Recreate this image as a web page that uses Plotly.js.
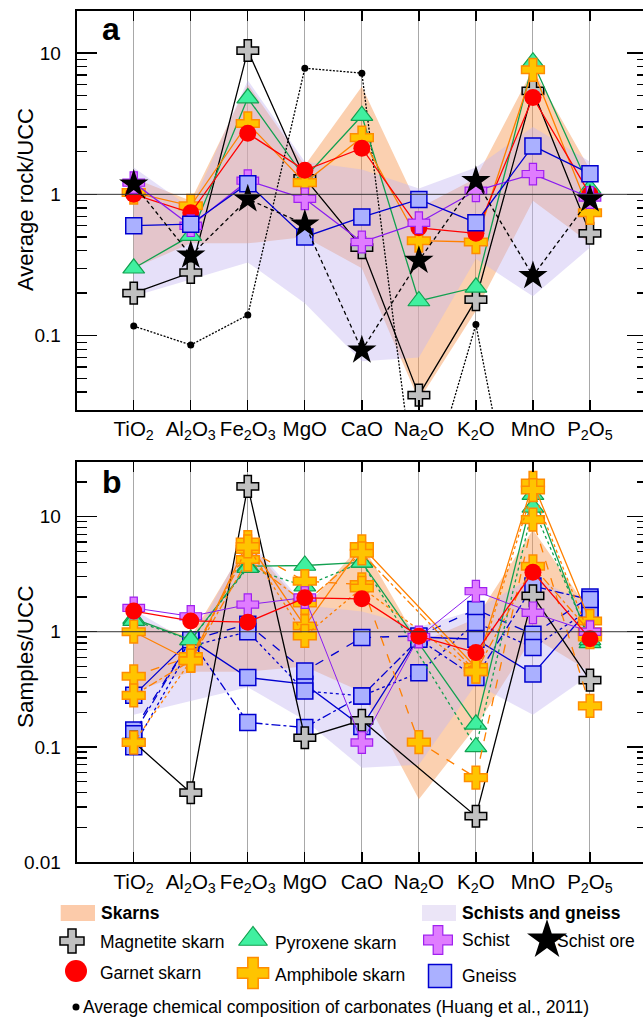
<!DOCTYPE html>
<html><head><meta charset="utf-8">
<script src="https://cdn.plot.ly/plotly-3.0.1.min.js"></script>
<style>html,body{margin:0;padding:0;overflow:hidden;background:#fff}#chart{width:648px;height:1019px}</style>
</head><body><div id="chart"></div><script>
const oxides = ['TiO<sub>2</sub>','Al<sub>2</sub>O<sub>3</sub>','Fe<sub>2</sub>O<sub>3</sub>','MgO','CaO','Na<sub>2</sub>O','K<sub>2</sub>O','MnO','P<sub>2</sub>O<sub>5</sub>'];

// Envelopes (same in both panels)
const skarnUpper = [1.3, 0.9, 6.0, 1.6, 5.8, 0.8, 1.3, 7.7, 1.5];
const skarnLower = [0.3, 0.45, 0.45, 0.5, 0.3, 0.035, 0.15, 0.9, 0.45];
const schistUpper = [1.55, 0.8, 6.4, 1.7, 1.5, 1.1, 1.55, 3.0, 1.7];
const schistLower = [0.19, 0.25, 0.33, 0.17, 0.066, 0.07, 0.35, 0.19, 0.42];

// Panel a: averages
const magnetiteA = [0.20, 0.28, 10.4, 1.3, 0.42, 0.038, 0.18, 5.4, 0.53];
const garnetA = [1.0, 0.74, 2.7, 1.48, 2.12, 0.58, 0.53, 4.84, 1.0];
const pyroxeneA = [0.30, 0.51, 4.8, 1.31, 3.6, 0.176, 0.22, 8.6, 1.1];
const amphiboleA = [1.03, 0.83, 3.17, 1.21, 2.52, 0.47, 0.46, 7.6, 0.74];
const schistA = [1.21, 0.6, 1.25, 0.93, 0.46, 0.63, 1.06, 1.39, 0.95];
const gneissA = [0.60, 0.615, 1.19, 0.50, 0.69, 0.92, 0.63, 2.2, 1.40];
const schistOreA = [1.18, 0.37, 0.925, 0.615, 0.079, 0.34, 1.25, 0.265, 0.925];
const carbonates = [0.117, 0.086, 0.14, 7.8, 7.2, 0.005, 0.12, 0.001, 0.002];

// Panel b: samples
const magnetiteB = [0.11, 0.04, 18.3, 0.12, 0.17, null, 0.025, 2.05, 0.38];
const garnetB = [1.51, 1.24, 1.21, 1.97, 1.93, 0.915, 0.66, 3.29, 0.87];
const pyroxeneB1 = [1.3, 0.85, 3.7, 3.76, 4.0, null, 0.157, 15.5, 0.80];
const pyroxeneB2 = [1.25, 0.85, 3.6, 2.49, 4.0, null, 0.10, 12, 0.85];
const amphiboleB1 = [1.0, 0.56, 6.0, 1.12, 5.5, null, 0.49, 19.6, 1.24];
const amphiboleB2 = [0.41, 0.61, 5.17, 2.75, 2.57, 0.11, 0.054, 9.4, 0.227];
const amphiboleB3 = [0.28, 0.56, 4.24, 1.78, 4.8, null, 0.45, 3.7, 1.0];
const amphiboleB4 = [0.109, 0.56, 5.5, 0.92, 2.4, null, 0.45, 17, 0.9];
const schistB = [1.61, 1.36, 1.72, 1.98, 0.109, 0.9, 2.25, 1.46, 1.0];
const gneissB1 = [0.28, 0.85, 0.40, 0.35, 0.15, 0.9, 0.86, 0.43, 1.6];
const gneissB2 = [0.14, 0.85, 1.16, 0.455, 0.89, 0.92, 1.56, 0.95, 2.0];
const gneissB3 = [0.10, 0.75, 1.0, 0.305, 0.277, 0.44, 1.2, 0.73, 1.56];
const gneissB4 = [0.13, 0.85, 0.163, 0.147, 0.277, 0.86, 0.40, 2.49, 1.9];

const W = 648, H = 1019;
const FONT = 'Liberation Sans, Arial, sans-serif';

const sty = {
  magnetite: {line:'#000000', marker:{symbol:'cross', size:18, color:'#c0c0c0', line:{color:'#000', width:1.5}}},
  garnet: {line:'#ff0000', marker:{symbol:'circle', size:17, color:'#ff0000', line:{color:'#ff0000', width:0}}},
  pyroxene: {line:'#12a050', marker:{symbol:'triangle-up', size:19, color:'#40f0a0', line:{color:'#12a050', width:1.2}}},
  amphibole: {line:'#ff8000', marker:{symbol:'cross', size:19, color:'#ffc400', line:{color:'#ff8c00', width:1.5}}},
  schist: {line:'#8a1cf0', marker:{symbol:'cross', size:18, color:'#e07cff', line:{color:'#a020f0', width:1.2}}},
  gneiss: {line:'#0000d0', marker:{symbol:'square', size:16, color:'#aab0ff', line:{color:'#0000d0', width:1.5}}},
  ore: {line:'#000000', marker:{symbol:'star', size:22, color:'#000', line:{color:'#000', width:0}}}
};

function env(upper, lower, color, xa, ya){
  return {x: oxides.concat(oxides.slice().reverse()), y: upper.concat(lower.slice().reverse()),
    xaxis:xa, yaxis:ya, type:'scatter', mode:'lines', fill:'toself', fillcolor:color,
    line:{width:0, color:'rgba(0,0,0,0)'}, hoverinfo:'skip', showlegend:false};
}
function ser(vals, s, dash, xa, ya, lw){
  return {x: oxides, y: vals, xaxis:xa, yaxis:ya, type:'scatter', mode:'lines+markers',
    connectgaps:true, line:{color:s.line, width:lw||1.3, dash:dash||'solid'}, marker:s.marker, showlegend:false, cliponaxis:true};
}
const PEACH = 'rgba(247,150,80,0.45)';
const LAV = 'rgba(195,180,240,0.42)';

const traces = [
  env(skarnUpper, skarnLower, PEACH, 'x', 'y'),
  env(schistUpper, schistLower, LAV, 'x', 'y'),
  {x: oxides, y: carbonates, xaxis:'x', yaxis:'y', type:'scatter', mode:'lines+markers',
   line:{color:'#000', width:1.3, dash:'2px,1.5px'}, marker:{size:7, color:'#000'}, showlegend:false},
  ser(magnetiteA, sty.magnetite, 'solid', 'x','y'),
  ser(pyroxeneA, sty.pyroxene, 'solid', 'x','y'),
  ser(amphiboleA, sty.amphibole, 'solid', 'x','y'),
  ser(garnetA, sty.garnet, 'solid', 'x','y'),
  ser(schistA, sty.schist, 'solid', 'x','y'),
  ser(gneissA, sty.gneiss, 'solid', 'x','y'),
  ser(schistOreA, sty.ore, '4px,3px', 'x','y'),

  env(skarnUpper, skarnLower, PEACH, 'x2', 'y2'),
  env(schistUpper, schistLower, LAV, 'x2', 'y2'),
  ser(gneissB1, sty.gneiss, 'solid', 'x2','y2'),
  ser(gneissB2, sty.gneiss, 'dash', 'x2','y2'),
  ser(gneissB3, sty.gneiss, 'dot', 'x2','y2'),
  ser(gneissB4, sty.gneiss, 'dashdot', 'x2','y2'),
  ser(magnetiteB, sty.magnetite, 'solid', 'x2','y2'),
  ser(pyroxeneB1, sty.pyroxene, 'solid', 'x2','y2'),
  ser(pyroxeneB2, sty.pyroxene, 'dot', 'x2','y2'),
  ser(amphiboleB1, sty.amphibole, 'solid', 'x2','y2'),
  ser(amphiboleB2, sty.amphibole, 'dash', 'x2','y2'),
  ser(amphiboleB3, sty.amphibole, 'dashdot', 'x2','y2'),
  ser(amphiboleB4, sty.amphibole, 'dot', 'x2','y2'),
  ser(schistB, sty.schist, 'solid', 'x2','y2', 1),
  ser(garnetB, sty.garnet, 'solid', 'x2','y2')
];

// Legend keys drawn on an overlay axis in pixel units
const legendKeys = [
  {x:72, y:941, s:sty.magnetite, size:20},
  {x:76, y:971, s:sty.garnet, size:22},
  {x:253, y:939, s:sty.pyroxene, size:25},
  {x:253, y:973, s:sty.amphibole, size:26},
  {x:438, y:940, s:sty.schist, size:24},
  {x:440, y:976, s:sty.gneiss, size:23},
  {x:547, y:940, s:sty.ore, size:30}
];
legendKeys.forEach(k => {
  traces.push({x:[k.x], y:[k.y], xaxis:'x3', yaxis:'y3', type:'scatter', mode:'markers',
    marker:Object.assign({}, k.s.marker, {size:k.size}), hoverinfo:'skip', showlegend:false, cliponaxis:false});
});
traces.push({x:[76], y:[1007], xaxis:'x3', yaxis:'y3', type:'scatter', mode:'markers',
  marker:{size:7, color:'#000'}, hoverinfo:'skip', showlegend:false, cliponaxis:false});

const px = x => x / W, py = y => 1 - y / H;

function xax(anchor){
  return {type:'category', range:[-1, 9], domain:[px(76.7), px(647)], anchor:anchor,
    showgrid:true, gridcolor:'#a8a8a8', gridwidth:1, showline:true, linecolor:'#000', linewidth:2,
    mirror:'ticks', ticks:'inside', ticklen:10, tickwidth:1.3, tickcolor:'#000',
    tickfont:{family:FONT, size:20.5, color:'#000'}, ticklabelstandoff:0, zeroline:false, fixedrange:true};
}
function yax(range, domain, anchor){
  return {type:'log', range:range, domain:domain, anchor:anchor, dtick:1,
    showgrid:false, showline:true, linecolor:'#000', linewidth:2, mirror:'ticks',
    ticks:'inside', ticklen:20, tickwidth:1.3, tickcolor:'#000',
    minor:{ticks:'inside', ticklen:10, tickwidth:1.3, tickcolor:'#000', dtick:'D1', showgrid:false},
    tickfont:{family:FONT, size:19, color:'#000'}, ticklabelstandoff:10, zeroline:false, fixedrange:true};
}
function txt(t, x, y, size, opts){
  return Object.assign({text:t, xref:'paper', yref:'paper', x:px(x), y:py(y), xanchor:'left', yanchor:'middle',
    showarrow:false, font:{size:size, family:FONT, color:'#000'}}, opts||{});
}
const LF = 17.5;

const layout = {
  width: W, height: H, margin:{l:0, r:0, t:0, b:0}, paper_bgcolor:'#fff', plot_bgcolor:'rgba(0,0,0,0)',
  showlegend:false, font:{family:FONT, color:'#000'},
  xaxis: xax('y'),
  yaxis: yax([-1.522, 1.299], [py(409.5), py(10.7)], 'x'),
  xaxis2: xax('y2'),
  yaxis2: yax([-2, 1.474], [py(862), py(462)], 'x2'),
  xaxis3: {domain:[0,1], range:[0, W], visible:false, fixedrange:true, anchor:'y3'},
  yaxis3: {domain:[0,1], range:[H, 0], visible:false, fixedrange:true, anchor:'x3'},
  shapes: [
    {type:'line', xref:'x domain', yref:'y', x0:0, x1:1, y0:1, y1:1, line:{color:'#333', width:1}},
    {type:'line', xref:'x2 domain', yref:'y2', x0:0, x1:1, y0:1, y1:1, line:{color:'#333', width:1}},
    {type:'rect', xref:'paper', yref:'paper', x0:px(60.7), x1:px(95), y0:py(921), y1:py(905), fillcolor:'#fccbaa', line:{width:0}},
    {type:'rect', xref:'paper', yref:'paper', x0:px(422), x1:px(456), y0:py(921), y1:py(905), fillcolor:'#ebe5f7', line:{width:0}}
  ],
  annotations: [
    txt('Average rock/UCC', 25, 200, 22, {xanchor:'center', textangle:-90}),
    txt('Samples/UCC', 25, 657, 22.5, {xanchor:'center', textangle:-90}),
    txt('<b>a</b>', 100, 29, 32),
    txt('<b>b</b>', 100, 482, 32),
    txt('<b>Skarns</b>', 99, 913, LF),
    txt('<b>Schists and gneiss</b>', 460, 913, LF),
    txt('Magnetite skarn', 98, 942, LF),
    txt('Pyroxene skarn', 273, 943, LF),
    txt('Schist', 460, 940, LF),
    txt('Schist ore', 555, 941, LF),
    txt('Garnet skarn', 98, 973, LF),
    txt('Amphibole skarn', 273, 975, LF),
    txt('Gneiss', 460, 976, LF),
    txt('Average chemical composition of carbonates (Huang et al., 2011)', 81, 1007, LF)
  ]
};

Plotly.newPlot('chart', traces, layout, {staticPlot:true, displayModeBar:false});
</script></body></html>
